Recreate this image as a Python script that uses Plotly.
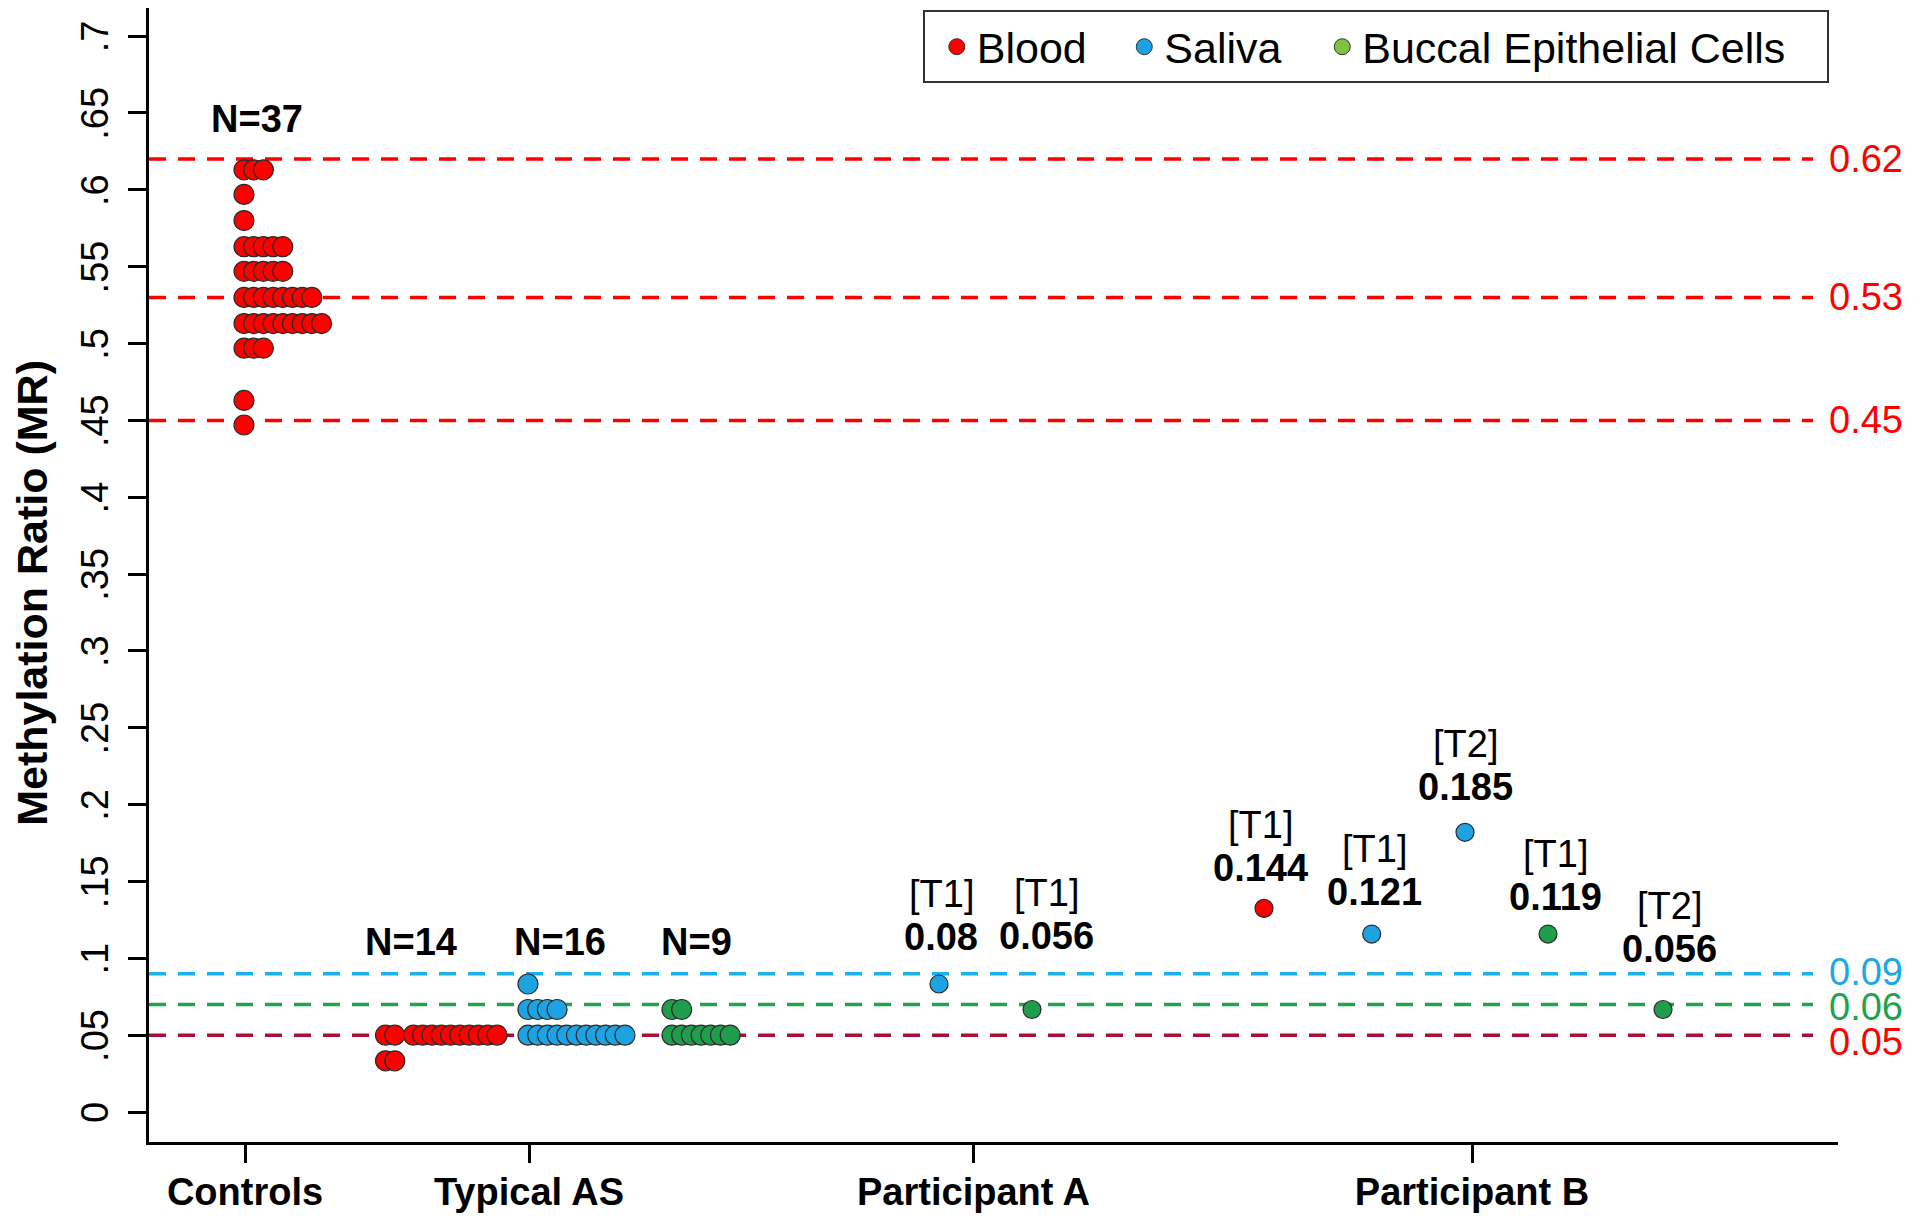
import plotly.graph_objects as go

# ---------------- data ----------------
controls_values = [0.613, 0.597, 0.580, 0.563, 0.547, 0.530, 0.513, 0.497, 0.463, 0.447]
controls_counts = [3, 1, 1, 5, 5, 8, 9, 3, 1, 1]

tas_blood_values = [0.0500, 0.0333]
tas_blood_counts = [12, 2]
tas_saliva_values = [0.0833, 0.0667, 0.0500]
tas_saliva_counts = [1, 4, 11]
tas_buccal_values = [0.0667, 0.0500]
tas_buccal_counts = [2, 7]

group_n_labels = ["N=37", "N=14", "N=16", "N=9"]

participant_tissue = ["Saliva", "Buccal", "Blood", "Saliva", "Saliva", "Buccal", "Buccal"]
participant_time = ["[T1]", "[T1]", "[T1]", "[T1]", "[T2]", "[T1]", "[T2]"]
participant_mr = [0.0833, 0.0667, 0.1325, 0.1158, 0.1820, 0.1158, 0.0667]
participant_mr_label = ["0.08", "0.056", "0.144", "0.121", "0.185", "0.119", "0.056"]

threshold_values = [0.62, 0.53, 0.45, 0.09, 0.07, 0.05]
threshold_labels = ["0.62", "0.53", "0.45", "0.09", "0.06", "0.05"]

category_labels = ["Controls", "Typical AS", "Participant A", "Participant B"]
ytick_values = [0, 0.05, 0.1, 0.15, 0.2, 0.25, 0.3, 0.35, 0.4, 0.45, 0.5, 0.55, 0.6, 0.65, 0.7]
ytick_labels = ["0", ".05", ".1", ".15", ".2", ".25", ".3", ".35", ".4", ".45", ".5", ".55", ".6", ".65", ".7"]

legend_names = ["Blood", "Saliva", "Buccal Epithelial Cells"]
y_title = "Methylation Ratio (MR)"

# ---------------- layout / style ----------------
FONT = "Liberation Sans, Arial, sans-serif"
NB = "\u00a0"
THIN = "\u2009"
LEGEND_PAD = [NB * 2 + THIN, NB * 3, NB * 3]   # trailing spacing between legend entries
C_FILL = {"Blood": "#FF0000", "Saliva": "#1DA3E2", "Buccal": "#1F9D4C"}
C_LEGEND = ["#FF0000", "#1BA1E2", "#7DC242"]
C_LINE = ["#FF0000", "#FF0000", "#FF0000", "#1CB0EE", "#1FA34F", "#A8103A"]
C_LABEL = ["#FF0000", "#FF0000", "#FF0000", "#1AA8E8", "#1FA34F", "#FF0000"]
LABEL_YSHIFT = [0, 0, 0, 2, -3, -7]

X_RANGE = [0, 16.89]
category_x = [0.96, 3.80, 8.245, 13.23]
controls_base = 0.95
tas_bases = {"Blood": 2.365, "Saliva": 3.79, "Buccal": 5.23}
dot_step = 0.097
tas_blood_step = 0.093
participant_x = [7.90, 8.83, 11.15, 12.227, 13.16, 13.99, 15.14]
label_lift = [47, 74, 40, 42, 45, 37, 61]
label_xshift = [2, 14, -4, 3, 0, 7, 6]
n_label_x = [1.077, 2.62, 4.11, 5.47]
n_label_y = [0.646, 0.1108, 0.1108, 0.1108]
line_x_end = 16.64
line_label_x = 16.78

GROUP_SIZE = 20
PART_SIZE = 18
TXT = 38


def stack(values, counts, base, step, gap_after=None):
    xs, ys = [], []
    for v, c in zip(values, counts):
        for i in range(c):
            slot = i
            if gap_after is not None and c > gap_after and i >= gap_after:
                slot = i + 1
            xs.append(base + slot * step)
            ys.append(v)
    return xs, ys


fig = go.Figure()

shapes = []
for v, col in zip(threshold_values, C_LINE):
    shapes.append(dict(type="line", xref="x", yref="y", x0=0, x1=line_x_end, y0=v, y1=v,
                       line=dict(color=col, width=3.5, dash="17px,12px"), layer="below"))

marker_line = dict(color="#2a2a2a", width=1.2)

cx, cy = stack(controls_values, controls_counts, controls_base, dot_step)
fig.add_trace(go.Scatter(x=cx, y=cy, mode="markers", showlegend=False, name="Controls (Blood)",
                         marker=dict(size=GROUP_SIZE, color=C_FILL["Blood"], line=marker_line)))

bx, by = stack(tas_blood_values, tas_blood_counts, tas_bases["Blood"], tas_blood_step, gap_after=2)
sx, sy = stack(tas_saliva_values, tas_saliva_counts, tas_bases["Saliva"], dot_step)
gx, gy = stack(tas_buccal_values, tas_buccal_counts, tas_bases["Buccal"], dot_step)
for xs, ys, t in [(bx, by, "Blood"), (sx, sy, "Saliva"), (gx, gy, "Buccal")]:
    fig.add_trace(go.Scatter(x=xs, y=ys, mode="markers", showlegend=False, name="Typical AS " + t,
                             marker=dict(size=GROUP_SIZE, color=C_FILL[t], line=marker_line)))

fig.add_trace(go.Scatter(x=participant_x, y=participant_mr, mode="markers", showlegend=False,
                         name="Participants",
                         marker=dict(size=PART_SIZE, color=[C_FILL[t] for t in participant_tissue],
                                     line=marker_line)))

for name, col, pad in zip(legend_names, C_LEGEND, LEGEND_PAD):
    fig.add_trace(go.Scatter(x=[None], y=[None], mode="markers", name=name + pad,
                             marker=dict(size=18, color=col, line=dict(color="#333333", width=1))))

annotations = []
for txt, x, y in zip(group_n_labels, n_label_x, n_label_y):
    annotations.append(dict(x=x, y=y, xref="x", yref="y", text="<b>%s</b>" % txt, showarrow=False,
                            font=dict(family=FONT, size=TXT, color="black"),
                            xanchor="center", yanchor="middle"))

for x, y, tl, vl, lift, xs in zip(participant_x, participant_mr, participant_time,
                                  participant_mr_label, label_lift, label_xshift):
    annotations.append(dict(x=x, y=y, xref="x", yref="y", text="<b>%s</b>" % vl, showarrow=False,
                            font=dict(family=FONT, size=TXT, color="black"),
                            xanchor="center", yanchor="middle", yshift=lift, xshift=xs))
    annotations.append(dict(x=x, y=y, xref="x", yref="y", text=tl, showarrow=False,
                            font=dict(family=FONT, size=TXT, color="black"),
                            xanchor="center", yanchor="middle", yshift=lift + 43, xshift=xs))

for v, lab, col, ys in zip(threshold_values, threshold_labels, C_LABEL, LABEL_YSHIFT):
    annotations.append(dict(x=line_label_x, y=v, xref="x", yref="y", text=lab, showarrow=False,
                            font=dict(family=FONT, size=TXT, color=col),
                            xanchor="left", yanchor="middle", yshift=ys))

fig.update_layout(
    width=1912, height=1214,
    margin=dict(l=141, r=82, t=0, b=80, autoexpand=False),
    paper_bgcolor="white", plot_bgcolor="white",
    font=dict(family=FONT, color="black"),
    shapes=shapes, annotations=annotations,
    showlegend=True,
    legend=dict(orientation="h", x=0.458, y=0.998, xanchor="left", yanchor="top",
                bgcolor="white", bordercolor="#333333", borderwidth=2,
                font=dict(family=FONT, size=43, color="black"),
                title=dict(text=NB, side="left", font=dict(family=FONT, size=8)),
                itemsizing="trace"),
    xaxis=dict(range=X_RANGE, tickvals=category_x,
               ticktext=["<b>%s</b>" % c for c in category_labels],
               tickfont=dict(family=FONT, size=38, color="black"),
               ticks="outside", ticklen=18, tickwidth=2.5, tickcolor="black",
               ticklabelstandoff=-4, automargin=False,
               showline=True, linecolor="black", linewidth=3,
               showgrid=False, zeroline=False),
    yaxis=dict(range=[-0.0195, 0.7183], tickvals=ytick_values, ticktext=ytick_labels,
               tickangle=-90, tickfont=dict(family=FONT, size=38, color="black"),
               ticks="outside", ticklen=18, tickwidth=2.5, tickcolor="black",
               ticklabelstandoff=5, ticklabelshift=6, ticklabeloverflow="allow",
               automargin=False,
               showline=True, linecolor="black", linewidth=3,
               showgrid=False, zeroline=False,
               title=dict(text="<b>%s</b>" % (y_title + NB * 3),
                          font=dict(family=FONT, size=43, color="black"), standoff=41)),
)

fig.write_html("out.html")
